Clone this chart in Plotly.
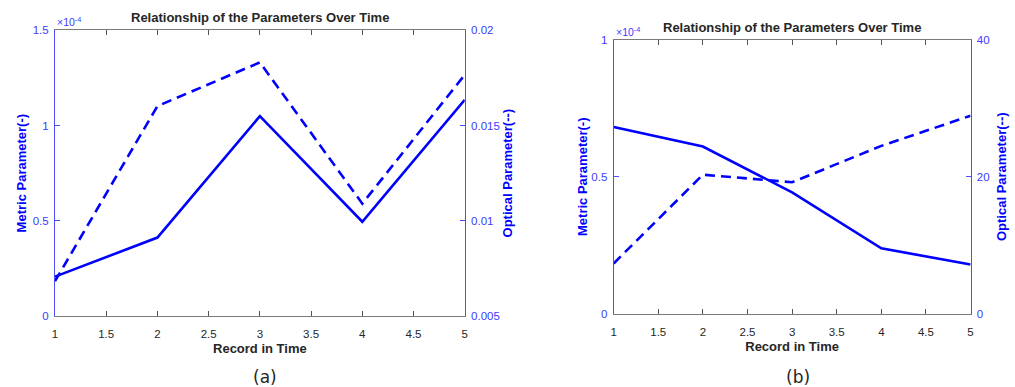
import plotly.graph_objects as go

records = [1, 2, 3, 4, 5]

# Panel (a)
metric_a = [0.207e-4, 0.412e-4, 1.049e-4, 0.495e-4, 1.135e-4]
optical_a = [0.00683, 0.01602, 0.01831, 0.0109, 0.01766]
# Panel (b)
metric_b = [0.681e-4, 0.610e-4, 0.443e-4, 0.239e-4, 0.180e-4]
optical_b = [7.35, 20.3, 19.2, 24.5, 28.9]

x_ticks = [1, 1.5, 2, 2.5, 3, 3.5, 4, 4.5, 5]
x_ticktext = ["1", "1.5", "2", "2.5", "3", "3.5", "4", "4.5", "5"]
ya_left_vals = [0, 0.5e-4, 1e-4, 1.5e-4]
ya_left_text = ["0", "0.5", "1", "1.5"]
ya_right_vals = [0.005, 0.01, 0.015, 0.02]
ya_right_text = ["0.005", "0.01", "0.015", "0.02"]
yb_left_vals = [0, 0.5e-4, 1e-4]
yb_left_text = ["0", "0.5", "1"]
yb_right_vals = [0, 20, 40]
yb_right_text = ["0", "20", "40"]

title = "Relationship of the Parameters Over Time"
LINE = "#0000ff"
AX = "#4d4dff"
TICK = "#3b3bff"
GRAY = "#262626"
FONT = "Liberation Sans, Arial, sans-serif"

fig = go.Figure()
fig.add_trace(go.Scatter(x=records, y=metric_a, mode="lines", xaxis="x", yaxis="y",
                         line=dict(color=LINE, width=2.6), showlegend=False))
fig.add_trace(go.Scatter(x=records, y=optical_a, mode="lines", xaxis="x", yaxis="y2",
                         line=dict(color=LINE, width=2.6, dash="10px,6px"), showlegend=False))
fig.add_trace(go.Scatter(x=records, y=metric_b, mode="lines", xaxis="x2", yaxis="y3",
                         line=dict(color=LINE, width=2.6), showlegend=False))
fig.add_trace(go.Scatter(x=records, y=optical_b, mode="lines", xaxis="x2", yaxis="y4",
                         line=dict(color=LINE, width=2.6, dash="10px,6px"), showlegend=False))

W, H = 1015, 387
ax_a = (52.3 / W, 464.5 / W)
ay_a = (1 - 320 / H, 1 - 25 / H)
ax_b = (614.3 / W, 973.3 / W)
ay_b = (1 - 317.7 / H, 1 - 34.7 / H)

def xaxis(domain, anchor):
    return dict(domain=domain, anchor=anchor, range=[1, 5], tickvals=x_ticks, ticktext=x_ticktext,
                ticks="inside", ticklen=5, tickcolor="#555555", mirror="ticks", showline=True,
                linecolor="#7a7a7a", linewidth=1, showgrid=False, zeroline=False,
                ticklabelstandoff=7,
                tickfont=dict(size=11.5, color=GRAY, family=FONT),
                title=dict(text="<b>Record in Time</b>", font=dict(size=13, color=GRAY, family=FONT),
                           standoff=5))

def yaxis(domain, anchor, rng, vals, text, side, overlay=None, ttl="", standoff=4):
    d = dict(domain=domain, anchor=anchor, range=rng, tickvals=vals, ticktext=text, side=side,
             ticks="inside", ticklen=5, tickcolor=AX, showline=True, linecolor=AX, linewidth=1,
             showgrid=False, zeroline=False, tickfont=dict(size=11.5, color=TICK, family=FONT),
             ticklabelstandoff=3,
             title=dict(text="<b>" + ttl + "</b>", font=dict(size=13, color=LINE, family=FONT),
                        standoff=standoff))
    if overlay:
        d["overlaying"] = overlay
    return d

fig.update_layout(
    width=W, height=H,
    margin=dict(l=0, r=0, t=0, b=0),
    paper_bgcolor="white", plot_bgcolor="white",
    font=dict(family=FONT),
    xaxis=xaxis(ax_a, "y"),
    yaxis=yaxis(ay_a, "x", [0, 1.5e-4], ya_left_vals, ya_left_text, "left",
                ttl="Metric Parameter(-)", standoff=3),
    yaxis2=yaxis(ay_a, "x", [0.005, 0.02], ya_right_vals, ya_right_text, "right", overlay="y",
                 ttl="Optical Parameter(--)", standoff=1),
    xaxis2=xaxis(ax_b, "y3"),
    yaxis3=yaxis(ay_b, "x2", [0, 1e-4], yb_left_vals, yb_left_text, "left",
                 ttl="Metric Parameter(-)", standoff=0),
    yaxis4=yaxis(ay_b, "x2", [0, 40], yb_right_vals, yb_right_text, "right", overlay="y3",
                 ttl="Optical Parameter(--)", standoff=8),
)

annotations = [
    dict(text="<b>" + title + "</b>", x=(ax_a[0] + ax_a[1]) / 2, y=1 - 12 / H, xref="paper", yref="paper",
         xanchor="center", showarrow=False, font=dict(size=13, color=GRAY, family=FONT), yanchor="middle"),
    dict(text="<b>" + title + "</b>", x=(ax_b[0] + ax_b[1]) / 2, y=1 - 22 / H, xref="paper", yref="paper",
         xanchor="center", showarrow=False, font=dict(size=13, color=GRAY, family=FONT), yanchor="middle"),
    dict(text="×10<sup>-4</sup>", x=ax_a[0], y=ay_a[1], xref="paper", yref="paper",
         showarrow=False, xanchor="left", yanchor="bottom", font=dict(size=10.5, color=TICK, family=FONT)),
    dict(text="×10<sup>-4</sup>", x=ax_b[0], y=ay_b[1], xref="paper", yref="paper",
         showarrow=False, xanchor="left", yanchor="bottom", font=dict(size=10.5, color=TICK, family=FONT)),
    dict(text="(a)", x=264 / W, y=1 - 383 / H, xref="paper", yref="paper", showarrow=False,
         xanchor="center", font=dict(size=17, color=GRAY, family="DejaVu Sans, sans-serif"), yanchor="middle"),
    dict(text="(b)", x=800 / W, y=1 - 383 / H, xref="paper", yref="paper", showarrow=False,
         xanchor="center", font=dict(size=17, color=GRAY, family="DejaVu Sans, sans-serif"), yanchor="middle"),
]
fig.update_layout(annotations=annotations)

fig.write_html("out.html")
